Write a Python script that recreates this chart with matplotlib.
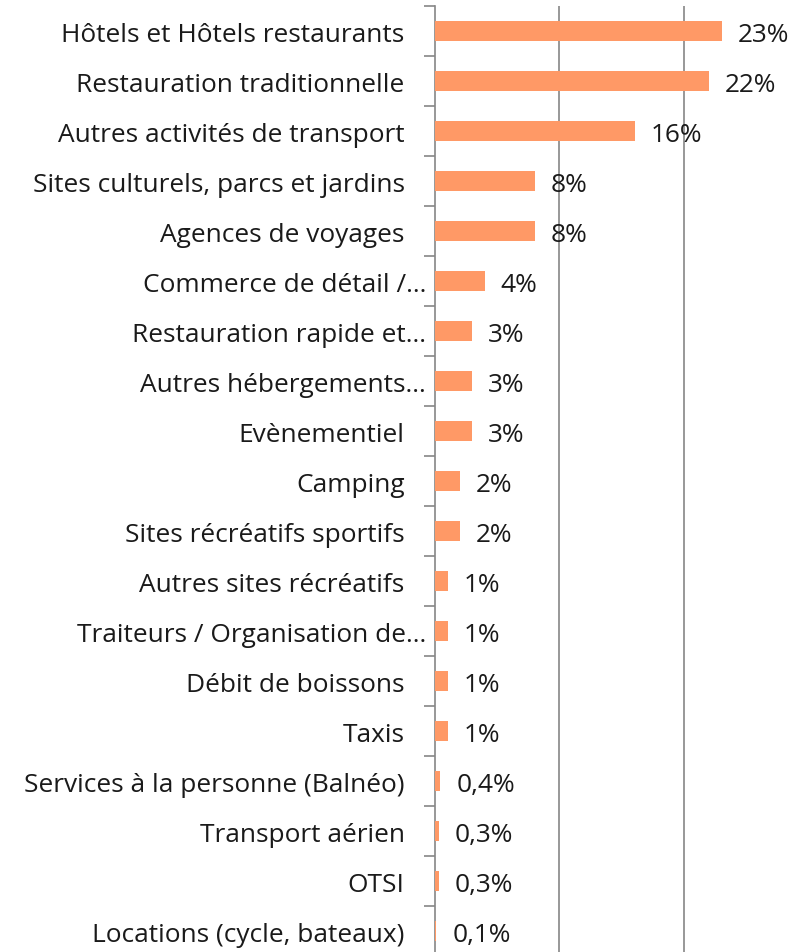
import matplotlib
matplotlib.use("Agg")
import matplotlib.pyplot as plt

categories = [
    "Hôtels et Hôtels restaurants",
    "Restauration traditionnelle",
    "Autres activités de transport",
    "Sites culturels, parcs et jardins",
    "Agences de voyages",
    "Commerce de détail /…",
    "Restauration rapide et…",
    "Autres hébergements…",
    "Evènementiel",
    "Camping",
    "Sites récréatifs sportifs",
    "Autres sites récréatifs",
    "Traiteurs / Organisation de…",
    "Débit de boissons",
    "Taxis",
    "Services à la personne (Balnéo)",
    "Transport aérien",
    "OTSI",
    "Locations (cycle, bateaux)",
]
values = [23.05, 22.0, 16.05, 8.05, 8.05, 4.0, 3.0, 3.0, 3.0, 2.0, 2.0,
          1.05, 1.05, 1.05, 1.05, 0.45, 0.32, 0.32, 0.13]
value_labels = ["23%", "22%", "16%", "8%", "8%", "4%", "3%", "3%", "3%",
                "2%", "2%", "1%", "1%", "1%", "1%", "0,4%", "0,3%", "0,3%", "0,1%"]

plt.rcParams['font.family'] = ['Open Sans', 'DejaVu Sans']
W, H = 805, 953
fig = plt.figure(figsize=(W / 100, H / 100), dpi=100)

# axis at x=434.7px, 10% = 124.7px, rows 50px starting at y=7
x0 = 434.7
px_per_pct = 12.47
xmax = (W - x0) / px_per_pct
ax = fig.add_axes([x0 / W, 1 - 957 / H, (W - x0) / W, 950 / H])

pos = list(range(len(categories)))
ax.barh(pos, values, height=0.4, color="#FF9966", zorder=3)

ax.set_xlim(0, xmax)
ax.set_ylim(len(categories) - 0.5, -0.5)
ax.set_xticks([10, 20])
ax.xaxis.grid(True, color="#868686", linewidth=1.2)
ax.tick_params(axis="x", length=0, labelbottom=False)

ax.set_yticks([p + 0.5 for p in pos] + [-0.5])
ax.set_yticklabels([])
ax.tick_params(axis="y", direction="out", length=8, color="#868686", width=1.2)
for s in ["top", "right", "bottom"]:
    ax.spines[s].set_visible(False)
ax.spines["left"].set_color("#868686")
ax.spines["left"].set_linewidth(1.2)

fs = 18.9
pt = 0.72  # points per pixel at 100 dpi
for p, cat in zip(pos, categories):
    gap = 8.5 if cat.endswith("…") else 30
    ax.annotate(cat, xy=(0, p), xytext=(-gap * pt, -9.5 * pt), textcoords="offset points",
                ha="right", va="baseline", fontsize=fs, color="#1a1a1a",
                annotation_clip=False)

for p, v, lab in zip(pos, values, value_labels):
    ax.annotate(lab, xy=(v, p), xytext=(16 * pt, -10 * pt), textcoords="offset points",
                ha="left", va="baseline", fontsize=fs, color="#1a1a1a")

fig.savefig("out.png", dpi=100)
